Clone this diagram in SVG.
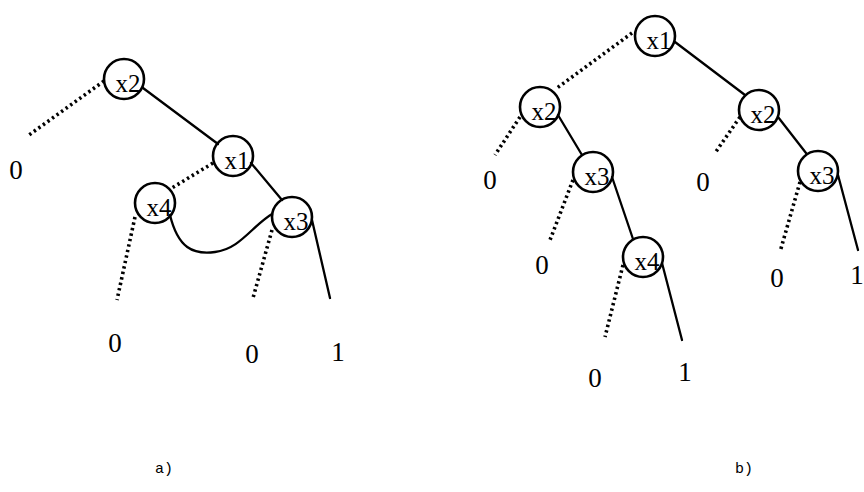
<svg xmlns="http://www.w3.org/2000/svg" width="864" height="492" viewBox="0 0 864 492">
<style>
.solid{stroke:#000;stroke-width:2.3;fill:none;stroke-linecap:round}
.dot{stroke:#000;stroke-width:3.6;fill:none;stroke-dasharray:2.4 3.2}
.node circle{fill:none;stroke:#000;stroke-width:2.6}
.node text{font-family:"Liberation Serif",serif;font-size:25px;fill:#000;text-anchor:middle}
.leaf{font-family:"Liberation Serif",serif;font-size:27px;fill:#000;text-anchor:middle}
.cap{font-family:"Liberation Mono",monospace;font-size:15px;fill:#000;text-anchor:middle}
</style>
<rect width="864" height="492" fill="#fff"/>
<g id="connectors">
<line class="dot" x1="104" y1="81" x2="29" y2="135"/>
<line class="solid" x1="143" y1="88" x2="218" y2="144"/>
<line class="dot" x1="213" y1="163" x2="172" y2="188"/>
<line class="solid" x1="251" y1="163" x2="282" y2="200"/>
<path class="solid" d="M170,215 C178,248 193,255 215,252 C240,249 252,226 272,214"/>
<line class="dot" x1="135" y1="217" x2="117" y2="300"/>
<line class="dot" x1="272" y1="230" x2="253" y2="298"/>
<line class="solid" x1="312" y1="220" x2="330" y2="298"/>
<line class="dot" x1="632" y1="33" x2="557" y2="88"/>
<line class="dot" x1="520" y1="117" x2="495" y2="155"/>
<line class="solid" x1="558" y1="115" x2="582" y2="155"/>
<line class="dot" x1="573" y1="180" x2="550" y2="240"/>
<line class="solid" x1="612" y1="177" x2="633" y2="239"/>
<line class="dot" x1="623" y1="265" x2="605" y2="337"/>
<line class="solid" x1="662" y1="263" x2="682" y2="340"/>
<line class="solid" x1="675" y1="42" x2="745" y2="95"/>
<line class="dot" x1="740" y1="117" x2="715" y2="153"/>
<line class="solid" x1="778" y1="117" x2="806" y2="153"/>
<line class="dot" x1="800" y1="182" x2="780" y2="252"/>
<line class="solid" x1="838" y1="175" x2="858" y2="250"/>
</g>
<g id="a_x2" class="node"><circle cx="124" cy="79" r="20"/><text x="128" y="92">x2</text></g>
<g id="a_x1" class="node"><circle cx="233" cy="156" r="20"/><text x="237" y="169">x1</text></g>
<g id="a_x4" class="node"><circle cx="155" cy="203" r="20"/><text x="159" y="216">x4</text></g>
<g id="a_x3" class="node"><circle cx="292" cy="217" r="20"/><text x="296" y="230">x3</text></g>
<g id="b_x1" class="node"><circle cx="655" cy="36" r="20"/><text x="659" y="49">x1</text></g>
<g id="b_x2l" class="node"><circle cx="540" cy="107" r="20"/><text x="544" y="120">x2</text></g>
<g id="b_x3l" class="node"><circle cx="593" cy="172" r="20"/><text x="597" y="185">x3</text></g>
<g id="b_x4" class="node"><circle cx="643" cy="257" r="20"/><text x="647" y="270">x4</text></g>
<g id="b_x2r" class="node"><circle cx="759" cy="110" r="20"/><text x="763" y="123">x2</text></g>
<g id="b_x3r" class="node"><circle cx="818" cy="171" r="20"/><text x="822" y="184">x3</text></g>
<g id="leaves">
<text class="leaf" x="16" y="179">0</text>
<text class="leaf" x="115" y="352">0</text>
<text class="leaf" x="252" y="363">0</text>
<text class="leaf" x="338" y="361">1</text>
<text class="leaf" x="490" y="189">0</text>
<text class="leaf" x="542" y="274">0</text>
<text class="leaf" x="595" y="387">0</text>
<text class="leaf" x="685" y="381">1</text>
<text class="leaf" x="703" y="191">0</text>
<text class="leaf" x="777" y="287">0</text>
<text class="leaf" x="857" y="284">1</text>
</g>
<text class="cap" x="164" y="473">a)</text>
<text class="cap" x="744" y="473">b)</text>
</svg>
